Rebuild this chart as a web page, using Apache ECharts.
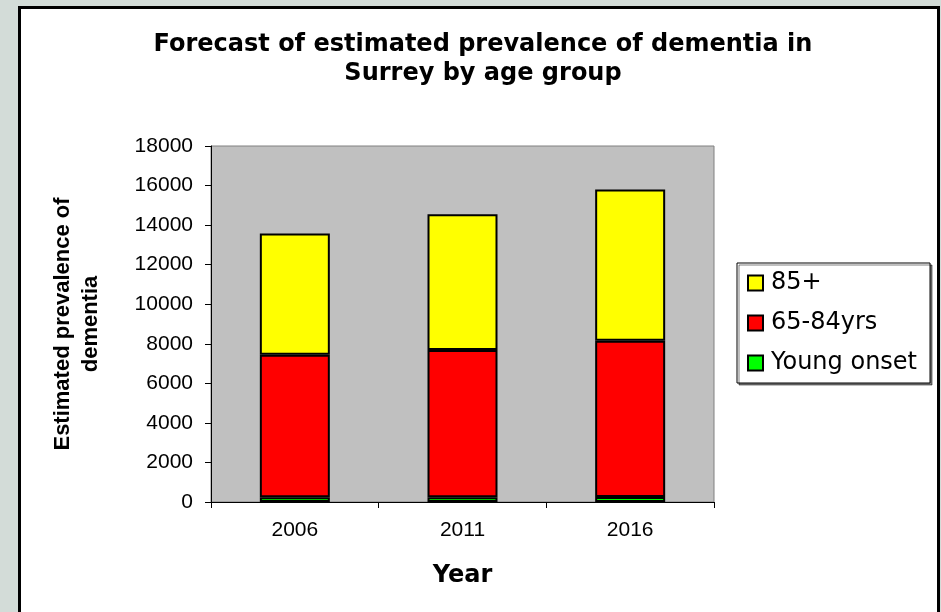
<!DOCTYPE html>
<html><head><meta charset="utf-8">
<script src="https://cdn.jsdelivr.net/npm/echarts@6/dist/echarts.min.js"></script>
<style>html,body{margin:0;padding:0;}#c{width:941px;height:612px;}</style>
</head><body><div id="c"></div>
<script>
const categories = ['2006', '2011', '2016'];
const youngOnset = [240, 245, 250];
const age65to84 = [7210, 7435, 7900];
const age85plus = [6120, 6870, 7650];
const yTicks = [0, 2000, 4000, 6000, 8000, 10000, 12000, 14000, 16000, 18000];

const chart = echarts.init(document.getElementById('c'));
const font = 'Liberation Sans, Arial, sans-serif';
const wide = 'DejaVu Sans, sans-serif';
const barStyle = (c) => ({ color: c, borderColor: '#000', borderWidth: 2 });
chart.setOption({
  backgroundColor: '#d3dcd8',
  animation: false,
  graphic: [{
    type: 'rect', left: 18, top: 6, z: -10,
    shape: { width: 919, height: 620 },
    style: { fill: '#fff', stroke: '#000', lineWidth: 3 }
  }],
  title: {
    text: 'Forecast of estimated prevalence of dementia in\nSurrey by age group',
    left: 478, top: 25, textAlign: 'center',
    textStyle: { fontFamily: wide, fontWeight: 'bold', fontSize: 24, lineHeight: 29, color: '#000' }
  },
  legend: {
    orient: 'vertical', left: 737, top: 263,
    data: ['85+', '65-84yrs', 'Young onset'],
    backgroundColor: '#fff', borderColor: '#000', borderWidth: 1,
    shadowColor: 'rgba(0,0,0,0.5)', shadowOffsetX: 2, shadowOffsetY: 2, shadowBlur: 0,
    padding: [8, 13, 8, 10], itemGap: 16, itemWidth: 15, itemHeight: 15, icon: 'rect',
    textStyle: { fontFamily: wide, fontSize: 24, color: '#000', padding: [0, 0, 0, 3] }
  },
  grid: {
    left: 211, right: 227, top: 146, bottom: 110, show: true,
    backgroundColor: '#c0c0c0', borderColor: '#808080', borderWidth: 1
  },
  xAxis: {
    type: 'category', data: categories,
    axisLine: { lineStyle: { color: '#000', width: 1 } },
    axisTick: { show: true, length: 6, lineStyle: { color: '#000' } },
    axisLabel: { fontFamily: font, fontSize: 21, color: '#000', margin: 18 },
    name: 'Year', nameLocation: 'middle', nameGap: 62,
    nameTextStyle: { fontFamily: wide, fontWeight: 'bold', fontSize: 24, color: '#000' }
  },
  yAxis: {
    type: 'value', min: 0, max: 18000, interval: 2000,
    axisLine: { show: true, lineStyle: { color: '#000', width: 1 } },
    axisTick: { show: true, length: 6, lineStyle: { color: '#000' } },
    splitLine: { show: false },
    axisLabel: { fontFamily: font, fontSize: 21, color: '#000', margin: 18,
      formatter: (v) => yTicks.includes(v) ? String(v) : '' },
    name: 'Estimated prevalence of\ndementia', nameLocation: 'middle', nameGap: 106,
    nameTextStyle: { fontFamily: font, fontWeight: 'bold', fontSize: 22, lineHeight: 28, color: '#000' }
  },
  series: [
    { name: 'Young onset', type: 'bar', stack: 't', data: youngOnset, barWidth: 70, itemStyle: barStyle('#00ff00') },
    { name: '65-84yrs', type: 'bar', stack: 't', data: age65to84, barWidth: 70, itemStyle: barStyle('#ff0000') },
    { name: '85+', type: 'bar', stack: 't', data: age85plus, barWidth: 70, itemStyle: barStyle('#ffff00') }
  ]
});
</script></body></html>
